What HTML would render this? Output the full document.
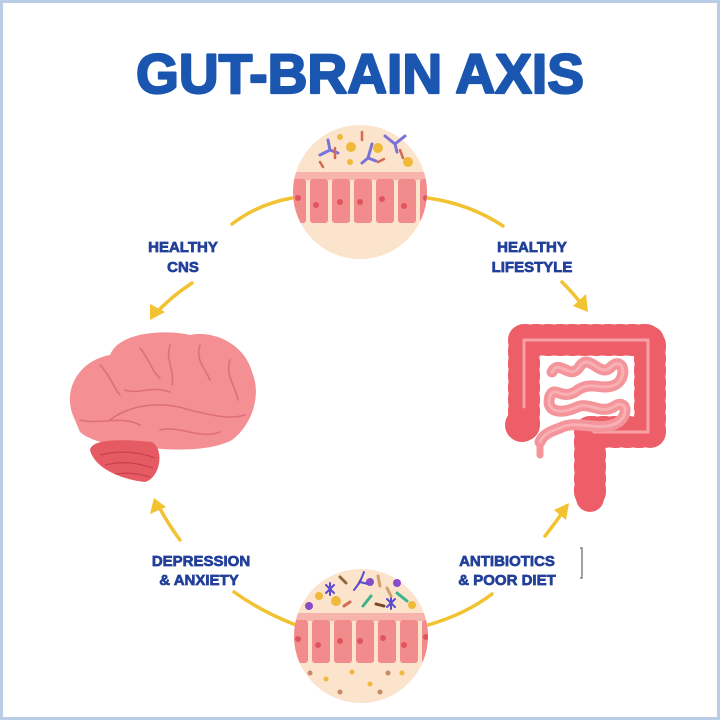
<!DOCTYPE html>
<html><head><meta charset="utf-8"><style>
html,body{margin:0;padding:0;background:#fff}
svg{display:block}
</style></head><body>
<svg width="720" height="720" viewBox="0 0 720 720" xmlns="http://www.w3.org/2000/svg">
<rect x="0" y="0" width="720" height="720" fill="#fff"/>
<rect x="1.5" y="1.5" width="717" height="717" fill="none" stroke="#b9cde6" stroke-width="3"/>
<text x="360" y="93" text-anchor="middle" font-family="Liberation Sans, sans-serif" font-weight="bold" font-size="56" fill="#1a56b0" stroke="#1a56b0" stroke-width="2.2" stroke-linejoin="round" textLength="448" lengthAdjust="spacingAndGlyphs">GUT-BRAIN AXIS</text>

<!-- arrows -->
<g fill="none" stroke="#f2c230" stroke-width="3.5" stroke-linecap="round">
<path d="M292 198 Q258 204 232 224"/>
<path d="M192 283 Q172 296 156 313"/>
<path d="M428 198 Q470 204 503 226"/>
<path d="M562 282 Q574 294 583 306"/>
<path d="M296 625 Q262 612 234 592"/>
<path d="M180 540 Q168 524 158 505"/>
<path d="M428 625 Q466 614 492 594"/>
<path d="M545 536 Q556 522 564 510"/>
</g>
<g fill="#f2c230">
<polygon points="150,320 150,304 165,312"/>
<polygon points="588,312 573,306 586,294"/>
<polygon points="154,498 150,514 166,507"/>
<polygon points="569,503 554,510 566,520"/>
</g>

<!-- labels -->
<g font-family="Liberation Sans, sans-serif" font-weight="bold" font-size="15" fill="#23409a" stroke="#23409a" stroke-width="0.7" text-anchor="middle">
<text x="183" y="252">HEALTHY</text><text x="183" y="272">CNS</text>
<text x="532" y="252">HEALTHY</text><text x="532" y="272">LIFESTYLE</text>
<text x="201" y="566">DEPRESSION</text><text x="199" y="585">&amp; ANXIETY</text>
<text x="507" y="566">ANTIBIOTICS</text><text x="507" y="585">&amp; POOR DIET</text>
</g>
<path d="M580 548 h2 v30 h-2" fill="none" stroke="#666" stroke-width="1.2"/>

<defs>
<clipPath id="c1"><circle cx="360" cy="192" r="67"/></clipPath>
<clipPath id="c2"><circle cx="361" cy="636" r="67"/></clipPath>
</defs>
<!-- top circle -->
<circle cx="360" cy="192" r="67" fill="#fbe3cc"/>
<g clip-path="url(#c1)">
<rect x="290" y="172" width="140" height="8" fill="#f7b4ac"/>
<g fill="#f28b8c">
<rect x="290" y="179" width="16" height="44" rx="3"/><rect x="310" y="179" width="18" height="44" rx="3"/><rect x="332" y="179" width="18" height="44" rx="3"/><rect x="354" y="179" width="18" height="44" rx="3"/><rect x="376" y="179" width="18" height="44" rx="3"/><rect x="398" y="179" width="18" height="44" rx="3"/><rect x="420" y="179" width="14" height="44" rx="3"/>
</g>
<g fill="#e05460"><circle cx="298" cy="198" r="3"/><circle cx="316" cy="205" r="3"/><circle cx="340" cy="202" r="3"/><circle cx="360" cy="202" r="3"/><circle cx="382" cy="199" r="3"/><circle cx="404" cy="206" r="3"/><circle cx="426" cy="198" r="3"/></g>
</g>
<g fill="#f0b93a"><circle cx="340" cy="137" r="3"/><circle cx="351" cy="147" r="5"/><circle cx="378" cy="148" r="5"/><circle cx="408" cy="162" r="5"/><circle cx="350" cy="162" r="3"/></g>
<g stroke="#7b72d8" stroke-width="3" fill="none" stroke-linecap="round"><path d="M320 155 l10 -5 l-2 -10 M330 150 l8 3"/><path d="M385 136 l10 8 l10 -8 M395 144 l2 8"/><path d="M362 163 l6 -5 l4 -14 M368 158 l8 3"/></g>
<g stroke="#d46a52" stroke-width="2.5" stroke-linecap="round"><path d="M362 132 l0 8"/><path d="M335 148 l0 10"/><path d="M320 162 l3 5"/><path d="M400 150 l3 8"/><path d="M378 162 l6 -3"/></g>

<!-- bottom circle -->
<circle cx="361" cy="636" r="67" fill="#fbe3cc"/>
<g clip-path="url(#c2)">
<rect x="290" y="613" width="145" height="8" fill="#f7b4ac"/>
<g fill="#f28b8c">
<rect x="292" y="620" width="16" height="43" rx="3"/><rect x="312" y="620" width="18" height="43" rx="3"/><rect x="334" y="620" width="18" height="43" rx="3"/><rect x="356" y="620" width="18" height="43" rx="3"/><rect x="378" y="620" width="18" height="43" rx="3"/><rect x="400" y="620" width="18" height="43" rx="3"/><rect x="422" y="620" width="14" height="43" rx="3"/>
</g>
<g fill="#e05460"><circle cx="298" cy="639" r="3"/><circle cx="318" cy="645" r="3"/><circle cx="340" cy="641" r="3"/><circle cx="360" cy="641" r="3"/><circle cx="383" cy="638" r="3"/><circle cx="404" cy="645" r="3"/><circle cx="426" cy="637" r="3"/></g>
</g>
<g fill="#f0b93a"><circle cx="319" cy="596" r="4"/><circle cx="336" cy="601" r="5"/><circle cx="412" cy="605" r="4"/><circle cx="326" cy="679" r="2.5"/><circle cx="370" cy="684" r="2.5"/><circle cx="402" cy="673" r="2.5"/><circle cx="352" cy="672" r="2.5"/></g>
<g fill="#c88a6a"><circle cx="310" cy="673" r="2.5"/><circle cx="340" cy="692" r="2.5"/><circle cx="380" cy="692" r="2.5"/><circle cx="388" cy="673" r="2.5"/></g>
<g fill="#8a4bc8"><circle cx="309" cy="606" r="4"/><circle cx="370" cy="582" r="4"/><circle cx="397" cy="583" r="4"/></g>
<g stroke="#5a4bd0" stroke-width="2" stroke-linecap="round"><path d="M326 585 l8 8 M334 585 l-8 8 M330 583 v12"/><path d="M387 599 l8 8 M395 599 l-8 8 M391 597 v12"/><path d="M354 590 l6 -8 l4 -10 M360 582 l8 2"/></g>
<g stroke-width="3" stroke-linecap="round"><path d="M340 577 l6 6" stroke="#8a6a3a"/><path d="M344 606 l6 -4" stroke="#d46a52"/><path d="M363 606 l8 -10" stroke="#3ab48a"/><path d="M376 604 l8 2" stroke="#7a4a2a"/><path d="M397 593 l10 8" stroke="#3ab48a"/><path d="M378 576 l2 10" stroke="#d4a06a"/><path d="M387 588 l4 8" stroke="#d4a06a"/></g>

<!-- brain -->
<path d="M75 420 C60 390 80 360 110 355 C120 330 170 330 190 335 C215 330 245 345 252 372 C262 395 252 425 232 440 C210 452 170 450 150 448 C125 446 95 445 80 432 Z" fill="#f48f93"/>
<path d="M90 450 C92 437 130 440 152 442 C165 450 160 478 145 482 C125 480 95 470 90 450 Z" fill="#e65a63"/>
<g fill="none" stroke="#e07078" stroke-width="1.6" stroke-linecap="round">
<path d="M100 365 C110 375 115 390 120 395"/><path d="M140 348 C150 360 152 372 160 378"/><path d="M170 345 C165 360 175 370 172 385"/><path d="M200 345 C195 360 205 368 210 380"/><path d="M230 360 C225 375 235 385 238 400"/><path d="M110 420 C130 405 160 400 190 410 C210 415 230 420 245 415"/><path d="M80 420 C100 425 120 415 140 425"/><path d="M160 430 C180 425 200 440 220 432"/><path d="M125 390 C140 395 150 385 170 392"/>
</g>
<g fill="none" stroke="#c8424d" stroke-width="1.3"><path d="M100 455 C120 450 140 452 155 458"/><path d="M105 465 C125 460 140 464 153 468"/><path d="M115 474 C130 472 140 474 150 477"/></g>

<!-- intestine -->
<g fill="none" stroke-linecap="round" stroke-linejoin="round">
<path d="M524 425 V340 H650 V432 H590 V498" stroke="#ee5e68" stroke-width="28"/>
<path d="M524 425 V340 H650 V432 H590 V498" stroke="#ee5e68" stroke-width="32" stroke-dasharray="3 9" stroke-linecap="round"/>
<path d="M524 420 V340 H648 V432 H594" stroke="#f7a0a5" stroke-width="3"/>
</g>
<circle cx="522" cy="425" r="17" fill="#ee5e68"/>
<path d="M540 440 V455" stroke="#f4959b" stroke-width="7" stroke-linecap="round"/>
<path d="M552 372 C560 358 570 382 580 366 C590 352 600 380 612 366 C625 356 628 382 612 386 C600 390 590 380 575 392 C560 400 555 385 550 396 C545 412 560 414 575 408 C590 400 600 416 615 406 C628 398 630 420 612 425 C595 430 575 420 560 428 C548 432 542 436 540 442" fill="none" stroke="#f4959b" stroke-width="11" stroke-linecap="round" stroke-linejoin="round"/>
<path d="M552 372 C560 358 570 382 580 366 C590 352 600 380 612 366 C625 356 628 382 612 386 C600 390 590 380 575 392 C560 400 555 385 550 396 C545 412 560 414 575 408 C590 400 600 416 615 406 C628 398 630 420 612 425 C595 430 575 420 560 428 C548 432 542 436 540 442" fill="none" stroke="#f8b0b4" stroke-width="3" stroke-linecap="round" stroke-linejoin="round"/>
</svg>
</body></html>
